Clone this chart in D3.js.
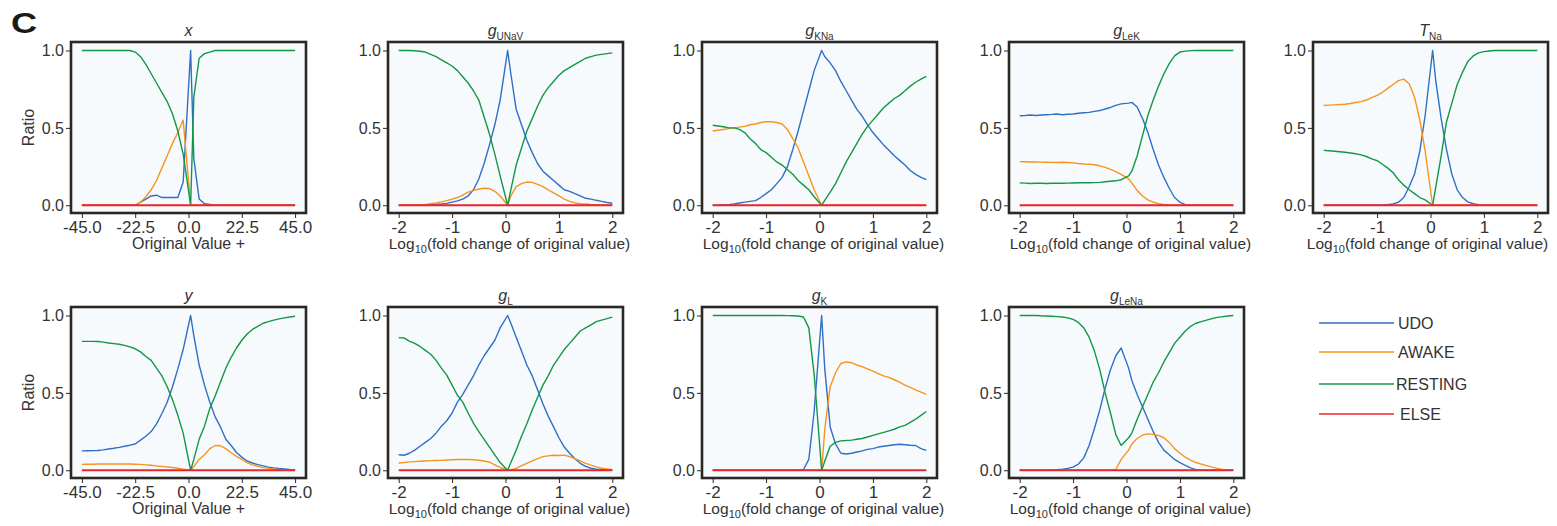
<!DOCTYPE html>
<html>
<head>
<meta charset="utf-8">
<script src="https://cdn.jsdelivr.net/npm/d3@7"></script>
<style>
body { margin: 0; background: #fff; }
text { font-family: Arial, "Liberation Sans", sans-serif; fill: #333; }
</style>
</head>
<body>
<div id="chart"></div>
<script>
//////////////////////////////////////////////////////////////////////////////
// Data (ratios)

var seriesNames = ["UDO", "AWAKE", "RESTING", "ELSE"];

var logX = [-2,-1.9,-1.8,-1.7,-1.6,-1.5,-1.4,-1.3,-1.2,-1.1,-1,-0.9,-0.8,-0.7,-0.6,-0.5,-0.4,-0.3,-0.2,-0.1,
            0.04,0.1,0.2,0.3,0.4,0.5,0.6,0.7,0.8,0.9,1,1.1,1.2,1.3,1.4,1.5,1.6,1.7,1.8,1.9,2];
var origX = [-45,-42.75,-40.5,-38.25,-36,-33.75,-31.5,-29.25,-27,-24.75,-22.5,-20.25,-18,-15.75,-13.5,-11.25,-9,-6.75,-4.5,-2.25,
             0.9,2.25,4.5,6.75,9,11.25,13.5,15.75,18,20.25,22.5,24.75,27,29.25,31.5,33.75,36,38.25,40.5,42.75,45];

var logTicks = [-2, -1, 0, 1, 2];
var origTicks = [-45, -22.5, 0, 22.5, 45];
var ratioTicks = [0, 0.5, 1];

var elseLog  = [0,0,0,0,0,0,0,0,0,0,0,0,0,0,0,0,0,0,0,0,0,0,0,0,0,0,0,0,0,0,0,0,0,0,0,0,0,0,0,0,0];
var elseOrig = [0,0,0,0,0,0,0,0,0,0,0,0,0,0,0,0,0,0,0,0,0,0,0,0,0,0,0,0,0,0,0,0,0,0,0,0,0,0,0,0,0];

// x
var xUDO     = [0,0,0,0,0,0,0,0,0,0,0,0.02,0.04,0.06,0.065,0.05,0.05,0.05,0.05,0.15,
                1,0.3,0.04,0.01,0.005,0,0,0,0,0,0,0,0,0,0,0,0,0,0,0,0];
var xAWAKE   = [0,0,0,0,0,0,0,0,0,0,0,0.02,0.055,0.1,0.16,0.24,0.32,0.4,0.47,0.55,
                0,0,0,0,0,0,0,0,0,0,0,0,0,0,0,0,0,0,0,0,0];
var xRESTING = [1,1,1,1,1,1,1,1,1,1,0.99,0.96,0.91,0.85,0.79,0.73,0.67,0.59,0.48,0.33,
                0,0.7,0.95,0.98,0.99,1,1,1,1,1,1,1,1,1,1,1,1,1,1,1,1];

// gUNaV
var gUNaV_UDO     = [0,0,0,0,0,0,0.002,0.005,0.008,0.012,0.02,0.028,0.04,0.06,0.1,0.17,0.27,0.39,0.52,0.68,
                     1,0.85,0.62,0.52,0.42,0.34,0.27,0.22,0.19,0.16,0.13,0.1,0.09,0.075,0.06,0.045,0.04,0.032,0.025,0.018,0.013];
var gUNaV_AWAKE   = [0,0,0,0,0.002,0.005,0.01,0.015,0.022,0.03,0.04,0.05,0.065,0.085,0.095,0.105,0.11,0.108,0.09,0.06,
                     0,0.06,0.12,0.14,0.15,0.148,0.135,0.12,0.1,0.08,0.06,0.04,0.025,0.015,0.01,0.008,0.005,0.003,0.002,0.001,0.001];
var gUNaV_RESTING = [1,1,1,0.998,0.995,0.99,0.975,0.96,0.94,0.92,0.9,0.87,0.83,0.79,0.74,0.68,0.57,0.46,0.33,0.19,
                     0,0.1,0.26,0.37,0.48,0.56,0.64,0.71,0.76,0.8,0.84,0.87,0.89,0.91,0.93,0.95,0.96,0.97,0.975,0.98,0.985];

// gKNa
var gKNa_UDO     = [0,0,0.002,0.004,0.008,0.015,0.02,0.025,0.03,0.05,0.075,0.1,0.14,0.18,0.25,0.36,0.48,0.61,0.74,0.87,
                    1,0.96,0.92,0.87,0.8,0.74,0.68,0.62,0.575,0.52,0.47,0.43,0.39,0.355,0.32,0.29,0.26,0.225,0.2,0.18,0.165];
var gKNa_AWAKE   = [0.48,0.485,0.49,0.495,0.5,0.505,0.51,0.52,0.525,0.535,0.54,0.54,0.535,0.525,0.49,0.43,0.37,0.28,0.19,0.1,
                    0,0,0,0,0,0,0,0,0,0,0,0,0,0,0,0,0,0,0,0,0];
var gKNa_RESTING = [0.517,0.512,0.507,0.5,0.5,0.49,0.47,0.43,0.4,0.36,0.34,0.31,0.28,0.26,0.23,0.2,0.16,0.13,0.1,0.055,
                    0,0.033,0.085,0.14,0.21,0.28,0.34,0.4,0.46,0.51,0.55,0.59,0.63,0.66,0.69,0.71,0.74,0.77,0.795,0.815,0.833];

// gLeK
var gLeK_UDO     = [0.578,0.58,0.583,0.58,0.583,0.585,0.587,0.59,0.585,0.588,0.59,0.595,0.598,0.6,0.607,0.612,0.622,0.632,0.645,0.655,
                    0.66,0.665,0.635,0.56,0.47,0.36,0.26,0.18,0.11,0.05,0.02,0.004,0.001,0,0,0,0,0,0,0,0];
var gLeK_AWAKE   = [0.282,0.281,0.28,0.28,0.279,0.278,0.277,0.276,0.278,0.276,0.274,0.27,0.267,0.265,0.262,0.255,0.245,0.232,0.218,0.2,
                    0.17,0.145,0.095,0.06,0.035,0.02,0.01,0.005,0.002,0,0,0,0,0,0,0,0,0,0,0,0];
var gLeK_RESTING = [0.145,0.143,0.141,0.142,0.142,0.141,0.142,0.143,0.142,0.143,0.144,0.145,0.145,0.145,0.146,0.148,0.152,0.155,0.158,0.165,
                    0.19,0.22,0.32,0.45,0.58,0.68,0.77,0.85,0.915,0.965,0.99,0.996,0.999,1,1,1,1,1,1,1,1];

// TNa
var TNa_UDO     = [0,0,0,0,0,0,0,0,0,0,0.001,0.002,0.004,0.008,0.02,0.05,0.12,0.2,0.35,0.58,
                   1,0.8,0.56,0.36,0.2,0.1,0.05,0.022,0.01,0.004,0.002,0.001,0,0,0,0,0,0,0,0,0];
var TNa_AWAKE   = [0.645,0.647,0.649,0.651,0.653,0.658,0.664,0.67,0.68,0.695,0.71,0.73,0.755,0.78,0.805,0.815,0.785,0.7,0.55,0.35,
                   0,0,0,0,0,0,0,0,0,0,0,0,0,0,0,0,0,0,0,0,0];
var TNa_RESTING = [0.355,0.352,0.349,0.346,0.343,0.338,0.333,0.326,0.315,0.3,0.288,0.265,0.24,0.21,0.165,0.13,0.1,0.075,0.05,0.035,
                   0,0.12,0.32,0.54,0.66,0.78,0.86,0.93,0.965,0.985,0.993,0.997,1,1,1,1,1,1,1,1,1];

// y
var yUDO     = [0.125,0.126,0.127,0.128,0.132,0.137,0.142,0.148,0.155,0.162,0.17,0.195,0.22,0.25,0.3,0.365,0.44,0.54,0.655,0.78,
                1,0.87,0.68,0.55,0.44,0.345,0.28,0.2,0.16,0.115,0.085,0.06,0.047,0.036,0.028,0.02,0.015,0.011,0.008,0.005,0.003];
var yAWAKE   = [0.038,0.039,0.039,0.04,0.04,0.04,0.041,0.04,0.041,0.04,0.039,0.038,0.035,0.032,0.028,0.025,0.021,0.018,0.013,0.007,
                0,0.024,0.07,0.1,0.14,0.16,0.158,0.14,0.113,0.09,0.07,0.05,0.035,0.025,0.017,0.012,0.008,0.005,0.003,0.002,0.001];
var yRESTING = [0.833,0.833,0.833,0.832,0.828,0.822,0.818,0.814,0.807,0.797,0.785,0.765,0.735,0.71,0.66,0.61,0.54,0.455,0.355,0.24,
                0,0.07,0.2,0.285,0.4,0.48,0.57,0.66,0.73,0.79,0.84,0.88,0.91,0.93,0.95,0.96,0.97,0.978,0.985,0.99,0.995];

// gL
var gL_UDO     = [0.1,0.097,0.11,0.13,0.155,0.18,0.205,0.24,0.285,0.32,0.37,0.44,0.49,0.55,0.61,0.68,0.74,0.79,0.84,0.92,
                  1,0.95,0.86,0.77,0.68,0.61,0.52,0.43,0.35,0.28,0.21,0.15,0.11,0.075,0.045,0.025,0.013,0.007,0.004,0.003,0.002];
var gL_AWAKE   = [0.047,0.05,0.054,0.056,0.058,0.06,0.062,0.063,0.064,0.066,0.068,0.07,0.07,0.07,0.068,0.065,0.06,0.052,0.035,0.018,
                  0,0.003,0.012,0.03,0.045,0.06,0.075,0.088,0.093,0.097,0.095,0.098,0.088,0.075,0.06,0.045,0.033,0.022,0.013,0.008,0.004];
var gL_RESTING = [0.857,0.855,0.835,0.82,0.8,0.775,0.75,0.71,0.66,0.615,0.55,0.485,0.44,0.37,0.305,0.25,0.2,0.15,0.1,0.05,
                  0,0.05,0.13,0.22,0.3,0.39,0.47,0.55,0.61,0.68,0.73,0.78,0.82,0.86,0.9,0.92,0.94,0.96,0.97,0.98,0.99];

// gK
var gK_UDO     = [0,0,0,0,0,0,0,0,0,0,0,0,0,0,0,0,0,0.005,0.07,0.38,
                  1,0.65,0.28,0.17,0.11,0.105,0.11,0.118,0.125,0.135,0.14,0.15,0.155,0.16,0.165,0.168,0.165,0.162,0.16,0.14,0.128];
var gK_AWAKE   = [0,0,0,0,0,0,0,0,0,0,0,0,0,0,0,0,0,0,0,0,
                  0,0.27,0.54,0.63,0.69,0.7,0.695,0.68,0.67,0.655,0.64,0.625,0.61,0.6,0.585,0.57,0.55,0.535,0.52,0.505,0.49];
var gK_RESTING = [1,1,1,1,1,1,1,1,1,1,1,1,1,1,0.999,0.998,0.997,0.99,0.92,0.62,
                  0,0.06,0.155,0.18,0.19,0.192,0.195,0.2,0.205,0.215,0.225,0.235,0.245,0.255,0.265,0.28,0.29,0.31,0.33,0.355,0.38];

// gLeNa
var gLeNa_UDO     = [0,0,0,0,0,0,0.002,0.004,0.007,0.012,0.02,0.04,0.08,0.16,0.27,0.39,0.53,0.65,0.74,0.79,
                     0.66,0.58,0.49,0.41,0.33,0.25,0.18,0.13,0.1,0.07,0.05,0.032,0.015,0.004,0.001,0,0,0,0,0,0];
var gLeNa_AWAKE   = [0,0,0,0,0,0,0,0,0,0,0,0,0,0,0,0,0,0,0.005,0.07,
                     0.13,0.17,0.205,0.228,0.235,0.232,0.225,0.21,0.18,0.14,0.11,0.085,0.065,0.05,0.04,0.03,0.02,0.012,0.006,0.002,0];
var gLeNa_RESTING = [1,1,1,1,0.998,0.997,0.995,0.993,0.99,0.985,0.975,0.955,0.92,0.86,0.77,0.65,0.5,0.37,0.23,0.16,
                     0.21,0.24,0.33,0.41,0.49,0.57,0.63,0.7,0.76,0.82,0.86,0.9,0.93,0.95,0.96,0.97,0.98,0.988,0.993,0.997,1];

//////////////////////////////////////////////////////////////////////////////
// Layout

var width = 1557, height = 526;
var pw = 235, ph = 171;
var colLeft = [71, 388, 702, 1009, 1313];
var rowTop = [42, 307];
var colors = { UDO: "#2f6fc6", AWAKE: "#f7941d", RESTING: "#129845", ELSE: "#e8262b" };

var panels = [
    { main: "x",  sub: "",     kind: "orig", col: 0, row: 0, s: [xUDO, xAWAKE, xRESTING, elseOrig] },
    { main: "g",  sub: "UNaV", kind: "log",  col: 1, row: 0, s: [gUNaV_UDO, gUNaV_AWAKE, gUNaV_RESTING, elseLog] },
    { main: "g",  sub: "KNa",  kind: "log",  col: 2, row: 0, s: [gKNa_UDO, gKNa_AWAKE, gKNa_RESTING, elseLog] },
    { main: "g",  sub: "LeK",  kind: "log",  col: 3, row: 0, s: [gLeK_UDO, gLeK_AWAKE, gLeK_RESTING, elseLog] },
    { main: "T",  sub: "Na",   kind: "log",  col: 4, row: 0, s: [TNa_UDO, TNa_AWAKE, TNa_RESTING, elseLog] },
    { main: "y",  sub: "",     kind: "orig", col: 0, row: 1, s: [yUDO, yAWAKE, yRESTING, elseOrig] },
    { main: "g",  sub: "L",    kind: "log",  col: 1, row: 1, s: [gL_UDO, gL_AWAKE, gL_RESTING, elseLog] },
    { main: "g",  sub: "K",    kind: "log",  col: 2, row: 1, s: [gK_UDO, gK_AWAKE, gK_RESTING, elseLog] },
    { main: "g",  sub: "LeNa", kind: "log",  col: 3, row: 1, s: [gLeNa_UDO, gLeNa_AWAKE, gLeNa_RESTING, elseLog] }
];

var svg = d3.select("#chart")
    .append("svg")
    .attr("width", width)
    .attr("height", height);

svg.append("text")
    .attr("transform", "translate(11,33) scale(1.25,1)")
    .style("font-size", "29px")
    .style("font-weight", "bold")
    .style("fill", "#1a1a1a")
    .text("C");

var yScale = d3.scaleLinear().domain([-0.05, 1.055]).range([ph, 0]);

function hyphen(s) { return s.replace("\u2212", "-"); }

function drawPanel(p)
{
    var xs = p.kind === "orig" ? origX : logX;
    var xScale = d3.scaleLinear()
        .domain(p.kind === "orig" ? [-49.6, 49.6] : [-2.2, 2.2])
        .range([0, pw]);
    var fmt = p.kind === "orig" ? d3.format(".1f") : d3.format("d");

    var g = svg.append("g")
        .attr("transform", "translate(" + colLeft[p.col] + "," + rowTop[p.row] + ")");

    g.append("rect")
        .attr("width", pw)
        .attr("height", ph)
        .attr("fill", "#f7fafd");

    var line = d3.line()
        .x(function(d) { return xScale(d[0]); })
        .y(function(d) { return yScale(d[1]); });

    p.s.forEach(function(vals, i) {
        var name = seriesNames[i];
        g.append("path")
            .datum(xs.map(function(x, j) { return [x, vals[j]]; }))
            .attr("d", line)
            .attr("fill", "none")
            .attr("stroke", colors[name])
            .attr("stroke-width", name === "ELSE" ? 1.8 : 1.4)
            .attr("stroke-linejoin", "round");
    });

    // axes
    var yAxis = g.append("g")
        .call(d3.axisLeft(yScale).tickValues(ratioTicks).tickFormat(d3.format(".1f"))
              .tickSize(5).tickPadding(2));
    var xAxis = g.append("g")
        .attr("transform", "translate(0," + ph + ")")
        .call(d3.axisBottom(xScale)
              .tickValues(p.kind === "orig" ? origTicks : logTicks)
              .tickFormat(function(d) { return hyphen(fmt(d)); })
              .tickSize(5).tickPadding(3));
    [yAxis, xAxis].forEach(function(a) {
        a.select(".domain").remove();
        a.selectAll("line").attr("stroke", "#2b2722");
        a.selectAll("text").style("fill", "#333");
    });
    yAxis.selectAll("text").style("font-size", "16px");
    xAxis.selectAll("text").style("font-size", "17px");

    g.append("rect")
        .attr("width", pw)
        .attr("height", ph)
        .attr("fill", "none")
        .attr("stroke", "#2b2722")
        .attr("stroke-width", 2.6);

    // title
    var t = g.append("text")
        .attr("x", pw / 2)
        .attr("y", -6)
        .attr("text-anchor", "middle")
        .style("font-size", "16px");
    t.append("tspan").style("font-style", "italic").text(p.main);
    if (p.sub) {
        t.append("tspan").attr("dy", 4).style("font-size", "10px").text(p.sub);
    }

    // x label
    var lab = g.append("text")
        .attr("x", pw / 2 + (p.kind === "log" ? (p.col === 4 ? -3 : 4) : 0))
        .attr("y", ph + 36)
        .attr("text-anchor", "middle")
        .style("font-size", "15.5px");
    if (p.kind === "orig") {
        lab.style("font-size", "16px").text("Original Value +");
    } else {
        lab.append("tspan").text("Log");
        lab.append("tspan").attr("dy", 4).style("font-size", "11px").text("10");
        lab.append("tspan").attr("dy", -4).text("(fold change of original value)");
    }

    if (p.col === 0) {
        g.append("text")
            .attr("transform", "translate(-37," + (ph / 2) + ") rotate(-90)")
            .attr("text-anchor", "middle")
            .style("font-size", "16px")
            .text("Ratio");
    }
}

panels.forEach(drawPanel);

//////////////////////////////////////////////////////////////////////////////
// Legend

var legendY = [323, 352, 384, 414];
var legend = svg.append("g");
seriesNames.forEach(function(name, i) {
    legend.append("line")
        .attr("x1", 1319).attr("x2", 1394)
        .attr("y1", legendY[i]).attr("y2", legendY[i])
        .attr("stroke", colors[name])
        .attr("stroke-width", 1.6);
    legend.append("text")
        .attr("x", name === "ELSE" ? 1400 : (name === "RESTING" ? 1396 : 1398))
        .attr("y", legendY[i] + 6)
        .style("font-size", "16px")
        .text(name);
});
</script>
</body>
</html>
